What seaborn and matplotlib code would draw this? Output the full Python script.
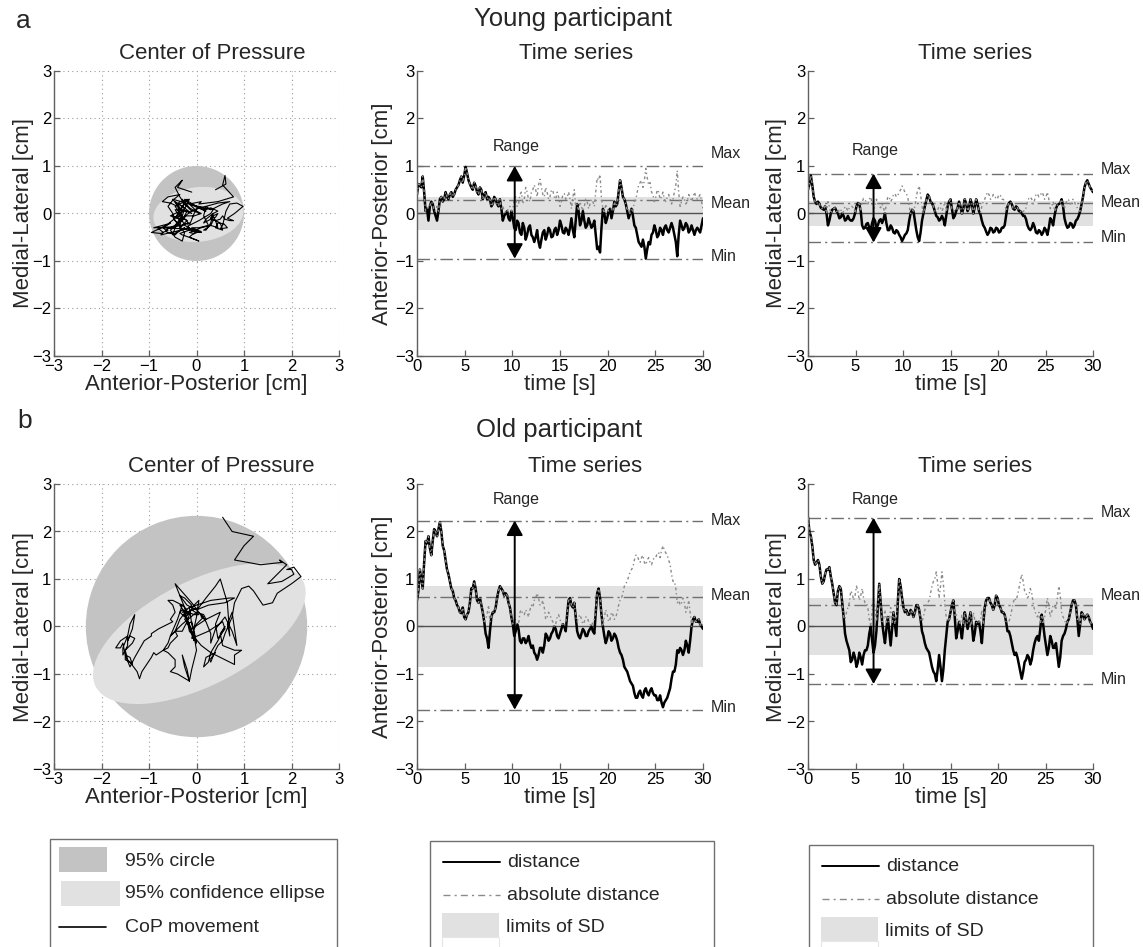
import numpy as np
import matplotlib
matplotlib.use("Agg")
import matplotlib.pyplot as plt
import seaborn as sns
from matplotlib.patches import Circle, Ellipse, Rectangle
from matplotlib.lines import Line2D

# ---------------- data ----------------
# samples at t = 0, 0.3, ..., 30 s
young_ap = [0.40, 0.60, 0.78, 0.05, -0.15, 0.25, 0.05, -0.15, 0.30, 0.25,
            0.45, 0.30, 0.45, 0.40, 0.55, 0.70, 0.65, 0.98, 0.70, 0.55,
            0.65, 0.45, 0.55, 0.30, 0.45, 0.35, 0.15, 0.35, 0.20, 0.30,
            -0.15, 0.00, -0.10, 0.05, -0.30, -0.15, -0.40, -0.20, -0.55, -0.30,
            -0.45, -0.60, -0.35, -0.72, -0.40, -0.55, -0.30, -0.50, -0.35, -0.45,
            -0.15, -0.40, -0.30, -0.45, -0.10, -0.50, 0.20, -0.25, 0.05, -0.30,
            -0.10, -0.30, -0.15, -0.75, -0.82, 0.10, -0.20, 0.05, -0.10, 0.25,
            0.20, 0.70, 0.35, 0.20, -0.10, 0.10, -0.25, -0.45, -0.65, -0.55,
            -0.95, -0.60, -0.45, -0.25, -0.50, -0.30, -0.45, -0.25, -0.40, -0.20,
            -0.45, -0.90, -0.15, -0.35, -0.20, -0.40, -0.25, -0.45, -0.30, -0.40,
            -0.10]
# samples at t = 0.15, 0.45, ..., 29.85 s
young_ap_mid = [0.62, 0.55, 0.45, 0.10, 0.15, 0.20, -0.05, 0.05, 0.35, 0.30,
                0.35, 0.40, 0.35, 0.50, 0.60, 0.78, 0.80, 0.85, 0.62, 0.50,
                0.58, 0.40, 0.50, 0.40, 0.30, 0.30, 0.20, 0.30, 0.15, 0.10,
                -0.05, 0.05, -0.15, -0.10, -0.35, -0.20, -0.45, -0.30, -0.45, -0.25,
                -0.50, -0.50, -0.60, -0.55, -0.35, -0.45, -0.35, -0.48, -0.30, -0.35,
                -0.25, -0.42, -0.35, -0.30, -0.35, -0.15, 0.05, -0.15, -0.15, -0.25,
                -0.20, -0.25, -0.45, -0.70, -0.30, 0.00, -0.10, 0.10, 0.05, 0.15,
                0.45, 0.55, 0.30, 0.05, 0.00, -0.05, -0.30, -0.60, -0.70, -0.70,
                -0.75, -0.65, -0.40, -0.35, -0.45, -0.35, -0.30, -0.35, -0.30, -0.30,
                -0.60, -0.45, -0.25, -0.30, -0.25, -0.35, -0.35, -0.35, -0.35, -0.25]

young_ml = [0.50, 0.80, 0.35, 0.20, 0.20, 0.10, 0.15, -0.25, 0.00, 0.10,
            0.05, -0.10, 0.00, -0.15, -0.05, -0.15, -0.10, 0.15, 0.20, -0.25,
            -0.30, -0.20, -0.35, -0.10, -0.30, -0.15, -0.20, 0.00, -0.35, -0.25,
            -0.40, -0.35, -0.45, -0.58, -0.45, -0.35, 0.00, 0.05, -0.35, -0.58,
            -0.15, 0.15, 0.40, 0.25, 0.15, -0.05, -0.15, -0.05, -0.25, 0.15,
            0.30, -0.10, 0.05, 0.25, 0.00, 0.30, 0.05, 0.30, 0.00, 0.30,
            0.05, -0.15, -0.30, -0.45, -0.30, -0.40, -0.30, -0.40, -0.30, -0.25,
            0.15, 0.25, 0.10, 0.15, 0.05, 0.00, -0.05, -0.25, -0.35, -0.20,
            -0.40, -0.35, -0.45, -0.30, -0.45, -0.10, -0.25, 0.10, 0.20, 0.30,
            -0.10, -0.30, -0.20, -0.30, -0.15, -0.05, 0.20, 0.55, 0.70, 0.55,
            0.45]
young_ml_mid = [0.62, 0.60, 0.25, 0.25, 0.12, 0.08, 0.00, -0.15, 0.08, 0.12,
                0.00, -0.08, -0.05, -0.12, -0.12, -0.15, 0.00, 0.22, 0.05, -0.32,
                -0.22, -0.30, -0.20, -0.15, -0.25, -0.12, -0.12, -0.20, -0.35, -0.30,
                -0.42, -0.38, -0.50, -0.52, -0.42, -0.15, 0.08, -0.15, -0.50, -0.40,
                0.00, 0.28, 0.35, 0.22, 0.05, -0.08, -0.12, -0.12, -0.05, 0.25,
                0.10, -0.05, 0.12, 0.15, 0.10, 0.20, 0.12, 0.20, 0.12, 0.20,
                -0.02, -0.25, -0.38, -0.40, -0.32, -0.38, -0.32, -0.38, -0.30, -0.05,
                0.22, 0.20, 0.08, 0.12, 0.05, -0.05, -0.12, -0.32, -0.30, -0.28,
                -0.42, -0.38, -0.40, -0.35, -0.30, -0.15, -0.05, 0.18, 0.22, 0.15,
                -0.22, -0.28, -0.22, -0.25, -0.12, 0.05, 0.35, 0.65, 0.62, 0.50]

old_ap = [0.55, 1.20, 0.80, 1.80, 1.90, 1.50, 2.05, 1.90, 2.20, 1.70,
          1.40, 1.10, 0.80, 0.60, 0.45, 0.30, 0.40, 0.15, 0.30, 0.80,
          0.95, 0.55, 0.60, 0.30, -0.15, -0.45, 0.20, 0.30, 0.60, 0.85,
          0.75, 0.70, 0.50, 0.20, -0.20, 0.05, -0.30, -0.25, -0.35, -0.20,
          -0.45, -0.55, -0.70, -0.45, -0.55, -0.15, -0.30, -0.15, 0.00, -0.20,
          -0.15, 0.05, -0.10, 0.55, 0.45, 0.50, -0.10, -0.25, -0.05, -0.20,
          -0.10, 0.00, -0.15, 0.70, 0.60, 0.00, -0.35, -0.10, -0.30, -0.15,
          -0.30, -0.55, -0.70, -0.90, -1.05, -1.20, -1.40, -1.50, -1.35, -1.50,
          -1.30, -1.45, -1.30, -1.45, -1.55, -1.45, -1.70, -1.55, -1.40, -1.10,
          -0.95, -0.50, -0.45, -0.60, -0.30, -0.55, 0.00, 0.20, 0.10, 0.05,
          -0.05]
old_ap_mid = [0.75, 1.00, 1.35, 1.75, 1.65, 1.80, 2.00, 2.05, 2.00, 1.60,
              1.20, 0.95, 0.75, 0.55, 0.40, 0.28, 0.20, 0.25, 0.50, 0.80,
              0.80, 0.50, 0.45, 0.10, -0.25, -0.10, 0.30, 0.40, 0.75, 0.80,
              0.65, 0.65, 0.40, 0.05, -0.10, -0.05, -0.35, -0.25, -0.30, -0.35,
              -0.40, -0.60, -0.60, -0.45, -0.40, -0.20, -0.25, -0.10, -0.05, -0.25,
              -0.05, 0.00, 0.25, 0.60, 0.40, 0.20, -0.20, -0.15, -0.10, -0.20,
              -0.05, -0.10, 0.30, 0.80, 0.25, -0.20, -0.25, -0.15, -0.25, -0.20,
              -0.45, -0.60, -0.85, -0.95, -1.15, -1.25, -1.50, -1.40, -1.45, -1.35,
              -1.40, -1.35, -1.40, -1.45, -1.55, -1.60, -1.60, -1.50, -1.30, -0.95,
              -0.80, -0.55, -0.50, -0.50, -0.40, -0.30, 0.15, 0.10, 0.15, 0.00]

old_ml = [2.30, 1.90, 1.40, 1.35, 1.30, 0.90, 1.10, 1.20, 1.05, 0.70,
          0.45, 0.85, 0.50, -0.15, -0.40, -0.75, -0.55, -0.85, -0.55, -0.80,
          -0.50, -0.40, 0.00, -0.55, -0.10, 0.90, 0.10, -0.35, 0.20, -0.40,
          0.30, -0.20, 1.00, 0.60, 0.30, 0.25, 0.35, 0.20, 0.45, 0.35,
          -0.10, -0.35, -0.50, -0.70, -0.95, -1.15, -0.60, -1.15, -0.50, 0.10,
          0.30, 0.55, -0.25, 0.10, -0.25, 0.30, -0.05, 0.30, -0.30, 0.10,
          0.10, -0.35, 0.40, 0.60, 0.50, 0.35, 0.65, 0.45, 0.30, 0.25,
          -0.10, -0.20, -0.50, -0.55, -0.80, -1.10, -0.75, -0.60, -0.80, -0.50,
          -0.25, -0.30, 0.25, -0.20, -0.60, -0.20, -0.45, -0.35, -0.85, -0.30,
          -0.15, 0.10, 0.30, 0.55, 0.45, -0.20, 0.30, 0.15, 0.25, 0.10,
          -0.05]
old_ml_mid = [2.00, 1.70, 1.30, 1.40, 1.05, 0.95, 1.20, 1.25, 0.90, 0.50,
              0.75, 0.80, 0.20, -0.30, -0.50, -0.70, -0.65, -0.75, -0.65, -0.60,
              -0.50, -0.15, -0.30, -0.40, 0.40, 0.50, -0.15, -0.05, -0.10, -0.05,
              0.05, 0.50, 0.85, 0.40, 0.35, 0.25, 0.30, 0.30, 0.45, 0.15,
              -0.20, -0.45, -0.55, -0.85, -1.00, -0.90, -0.85, -0.90, -0.20, 0.15,
              0.45, 0.20, -0.10, -0.05, 0.05, 0.15, 0.10, 0.05, -0.15, 0.05,
              -0.10, 0.05, 0.55, 0.60, 0.45, 0.45, 0.60, 0.40, 0.30, 0.10,
              -0.10, -0.35, -0.60, -0.65, -0.95, -0.95, -0.70, -0.65, -0.70, -0.35,
              -0.20, -0.05, 0.05, -0.40, -0.45, -0.30, -0.45, -0.60, -0.65, -0.20,
              -0.05, 0.15, 0.45, 0.55, 0.15, 0.05, 0.25, 0.20, 0.20, 0.05]

# reference lines: [Max, Mean of |distance|, Min], and SD limit
young_ap_lines = [1.00, 0.28, -0.95]
young_ap_sd = 0.35
young_ml_lines = [0.84, 0.22, -0.61]
young_ml_sd = 0.26
old_ap_lines = [2.23, 0.63, -1.75]
old_ap_sd = 0.86
old_ml_lines = [2.29, 0.46, -1.21]
old_ml_sd = 0.60
line_names = ["Max", "Mean", "Min"]

# 95% circle radius and 95% confidence ellipse (cx, cy, width, height, angle)
young_circle_radius = 1.00
young_ellipse = (0.04, -0.02, 1.90, 1.15, 6)
old_circle_radius = 2.33
old_ellipse = (0.06, -0.15, 4.90, 2.20, 27)

xy_ticks = [-3, -2, -1, 0, 1, 2, 3]
t_ticks = [0, 5, 10, 15, 20, 25, 30]


def merge(main, mid):
    out = np.empty(len(main) + len(mid))
    out[0::2] = main
    out[1::2] = mid
    return out


time_s = np.round(np.arange(201) * 0.15, 2)
yap = merge(young_ap, young_ap_mid)
yml = merge(young_ml, young_ml_mid)
oap = merge(old_ap, old_ap_mid)
oml = merge(old_ml, old_ml_mid)

# ---------------- styling ----------------
sns.set_theme(style="white")
plt.rcParams["font.family"] = ["Liberation Sans", "DejaVu Sans"]
plt.rcParams["axes.unicode_minus"] = True

W, H = 1143, 947
fig = plt.figure(figsize=(W / 100, H / 100), dpi=100)


def fx(px):
    return px / W


def fy(py):
    return 1 - py / H


def make_axes(left, top, width, height):
    return fig.add_axes([fx(left), fy(top + height), width / W, height / H])


SPINE = "#606060"
CIRCLE_C = "#c3c3c3"
ELLIPSE_C = "#e1e1e1"
BAND_C = "#e1e1e1"
REF_C = "#707070"


def style_axes(ax):
    for s in ["top", "right"]:
        ax.spines[s].set_visible(False)
    for s in ["left", "bottom"]:
        ax.spines[s].set_color(SPINE)
        ax.spines[s].set_linewidth(1.0)
    ax.tick_params(direction="in", length=4, width=0.9, color=SPINE,
                   labelsize=12, labelcolor="black", pad=2,
                   left=True, bottom=True)


def cop_panel(ax, ap, ml, radius, ell, title, title_x, ylab_x):
    style_axes(ax)
    ax.set_xlim(-3, 3)
    ax.set_ylim(-3, 3)
    ax.set_xticks(xy_ticks)
    ax.set_yticks(xy_ticks)
    ax.set_axisbelow(True)
    ax.grid(True, linestyle=(0, (1, 3)), color="#9a9a9a", linewidth=0.8)
    ax.add_patch(Circle((0, 0), radius, facecolor=CIRCLE_C, edgecolor="none", zorder=1))
    ax.add_patch(Ellipse((ell[0], ell[1]), ell[2], ell[3], angle=ell[4],
                         facecolor=ELLIPSE_C, edgecolor="none", zorder=1.5))
    sns.lineplot(x=ap, y=ml, sort=False, estimator=None,
                 color="black", linewidth=0.8, ax=ax, zorder=3)
    ax.set_xlabel("Anterior-Posterior [cm]", fontsize=16)
    ax.set_ylabel("Medial-Lateral [cm]", fontsize=16)
    ax.xaxis.set_label_coords(0.5, -0.062)
    ax.yaxis.set_label_coords(ylab_x, 0.5)
    ax.set_title(title, fontsize=16, pad=8.5, x=title_x)


def ts_panel(ax, d, lines, sd, ylabel, range_t, range_label_y, label_ys, title_x, ylab_x):
    style_axes(ax)
    ax.set_xlim(0, 30)
    ax.set_ylim(-3, 3)
    ax.set_xticks(t_ticks)
    ax.set_yticks(xy_ticks)
    ax.fill_between([0, 30], [-sd, -sd], [sd, sd], color=BAND_C, linewidth=0, zorder=0.5)
    ax.plot([0, 30], [0, 0], color="#505050", linewidth=1.0, zorder=1)
    for v in lines:
        ax.plot([0, 30], [v, v], color=REF_C, linewidth=1.0,
                linestyle=(0, (9, 3, 1.5, 3)), zorder=1)
    sns.lineplot(x=time_s, y=d, estimator=None, color="black", linewidth=1.8,
                 ax=ax, zorder=2)
    sns.lineplot(x=time_s, y=np.abs(d), estimator=None, color="#8a8a8a",
                 linewidth=1.0, linestyle=(0, (2, 2, 1, 2)), ax=ax, zorder=3)
    ax.annotate("", xy=(range_t, lines[0]), xytext=(range_t, lines[2]),
                arrowprops=dict(arrowstyle="<|-|>,head_length=0.45,head_width=0.25",
                                mutation_scale=20, color="black", linewidth=1.4,
                                shrinkA=0, shrinkB=0), zorder=4)
    ax.text(range_t + 0.15, range_label_y, "Range", ha="center", va="center", fontsize=11.5)
    for name, yv in zip(line_names, label_ys):
        ax.text(30.8, yv, name, ha="left", va="center", fontsize=11.5, clip_on=False)
    ax.set_xlabel("time [s]", fontsize=16)
    ax.set_ylabel(ylabel, fontsize=16)
    ax.xaxis.set_label_coords(0.5, -0.062)
    ax.yaxis.set_label_coords(ylab_x, 0.5)
    ax.set_title("Time series", fontsize=16, pad=8.5, x=title_x)


# ---------------- panels ----------------
ax1 = make_axes(54, 71, 285, 285)
ax2 = make_axes(417, 71, 286, 285)
ax3 = make_axes(808, 71, 285, 285)
ax4 = make_axes(54, 484, 285, 285)
ax5 = make_axes(417, 484, 286, 285)
ax6 = make_axes(808, 484, 285, 285)

cop_panel(ax1, yap, yml, young_circle_radius, young_ellipse,
          "Center of Pressure", 0.555, -0.07)
ts_panel(ax2, yap, young_ap_lines, young_ap_sd, "Anterior-Posterior [cm]",
         10.25, 1.42, [1.26, 0.21, -0.91], 0.556, -0.084)
ts_panel(ax3, yml, young_ml_lines, young_ml_sd, "Medial-Lateral [cm]",
         6.9, 1.33, [0.93, 0.23, -0.50], 0.586, -0.074)

cop_panel(ax4, oap, oml, old_circle_radius, old_ellipse,
          "Center of Pressure", 0.586, -0.07)
ts_panel(ax5, oap, old_ap_lines, old_ap_sd, "Anterior-Posterior [cm]",
         10.25, 2.67, [2.23, 0.66, -1.70], 0.587, -0.084)
ts_panel(ax6, oml, old_ml_lines, old_ml_sd, "Medial-Lateral [cm]",
         6.9, 2.67, [2.41, 0.66, -1.11], 0.586, -0.074)

# ---------------- figure texts ----------------
fig.text(fx(16), fy(28), "a", fontsize=19, ha="left", va="baseline")
fig.text(fx(17), fy(428), "b", fontsize=19, ha="left", va="baseline")
fig.text(fx(573), fy(26), "Young participant", fontsize=18.5, ha="center", va="baseline")
fig.text(fx(559), fy(437), "Old participant", fontsize=18.5, ha="center", va="baseline")

# ---------------- legend boxes ----------------
BOX_C = "#707070"


def box(x0, x1, ytop):
    fig.add_artist(Rectangle((fx(x0), fy(ytop + 200)), fx(x1) - fx(x0),
                             200 / H, transform=fig.transFigure, fill=False,
                             edgecolor=BOX_C, linewidth=1.0))


def patch(x0, x1, y0, y1, fc, ec="none"):
    fig.add_artist(Rectangle((fx(x0), fy(y1)), fx(x1) - fx(x0), (y1 - y0) / H,
                             transform=fig.transFigure, facecolor=fc,
                             edgecolor=ec, linewidth=0.8))


def hline(x0, x1, y, **kw):
    fig.add_artist(Line2D([fx(x0), fx(x1)], [fy(y), fy(y)],
                          transform=fig.transFigure, **kw))


def label(x, y, s):
    fig.text(fx(x), fy(y), s, fontsize=14, ha="left", va="center")


# box 1
box(50, 337, 839)
patch(59, 107, 847, 872, CIRCLE_C)
label(125, 861, "95% circle")
patch(61, 120, 881, 906, ELLIPSE_C)
label(125, 894, "95% confidence ellipse")
hline(59, 106, 927, color="black", linewidth=1.2)
label(125, 927, "CoP movement")

# box 2 and box 3
for ox, oy, x1 in [(0, 0, 714), (379, 4, 1093)]:
    box(430 + ox, x1, 841 + oy)
    hline(443 + ox, 500 + ox, 862 + oy, color="black", linewidth=1.4)
    label(507 + ox, 862 + oy, "distance")
    hline(443 + ox, 500 + ox, 895 + oy, color="#8a8a8a", linewidth=1.0,
          linestyle=(0, (5, 3, 1.5, 3)))
    label(507 + ox, 895 + oy, "absolute distance")
    patch(442 + ox, 499 + ox, 913 + oy, 937 + oy, BAND_C)
    label(506 + ox, 927 + oy, "limits of SD")
    patch(442 + ox, 499 + ox, 937 + oy, 960 + oy, "white", ec="#e6e6e6")

fig.savefig("out.png", dpi=100)
